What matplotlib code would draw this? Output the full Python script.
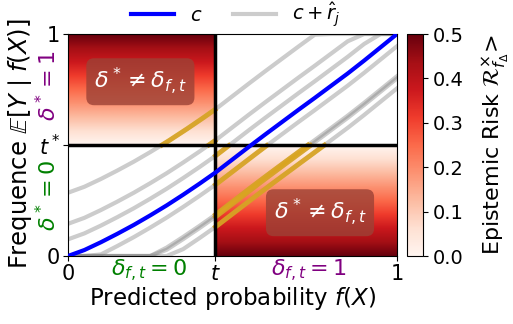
import numpy as np
import matplotlib.pyplot as plt
from matplotlib.colors import Normalize

# calibration curve c(x)
x_pts = [0.0, 0.05, 0.10, 0.15, 0.20, 0.25, 0.30, 0.35, 0.40, 0.45, 0.50,
         0.55, 0.60, 0.65, 0.70, 0.75, 0.80, 0.85, 0.90, 0.95, 1.0]
c_pts = [0.0, 0.027, 0.062, 0.100, 0.140, 0.183, 0.228, 0.276, 0.326, 0.378, 0.435,
         0.492, 0.548, 0.603, 0.658, 0.712, 0.767, 0.822, 0.880, 0.940, 1.0]

# residual offsets r_j for the grey curves
r_hat = [0.285, 0.145, 0.075, -0.055, -0.19, -0.20, -0.245]

t = 0.447       # decision threshold on f(X)
t_star = 0.5    # threshold on the true frequency

x = np.array(x_pts)
c = np.array(c_pts)

fig = plt.figure(figsize=(5.13, 3.24), dpi=100)
ax = fig.add_axes([68/513, 68/324, 329/513, 222/324])
cax = fig.add_axes([407/513, 68/324, 16/513, 222/324])

# epistemic risk regions (gradient = |y - t*|)
norm = Normalize(vmin=0, vmax=0.5)
yy = np.linspace(t_star, 1, 200)
im = ax.imshow(np.abs(yy - t_star)[:, None], extent=[0, t, t_star, 1], origin='lower',
               cmap='Reds', norm=norm, aspect='auto', zorder=0)
yy = np.linspace(0, t_star, 200)
ax.imshow(np.abs(yy - t_star)[:, None], extent=[t, 1, 0, t_star], origin='lower',
          cmap='Reds', norm=norm, aspect='auto', zorder=0)

# grey curves c + r_j, with wrong-decision parts in orange
xs = np.linspace(0, 1, 400)
for i, r in enumerate(r_hat):
    y = np.clip(c + r, 0, 1)
    ax.plot(x, y, color='gray', alpha=0.4, lw=3, zorder=2,
            label=r'$c+\hat{r}_j$' if i == 0 else None)
    ys = np.interp(xs, x, y)
    w = ((xs <= t) & (ys > t_star)) | ((xs >= t) & (ys < t_star))
    ax.plot(xs, np.where(w, ys, np.nan), color='goldenrod', alpha=0.9, lw=3.5, zorder=2.5)

ax.plot(x, c, color='blue', lw=3, zorder=4, label=r'$c$')

ax.axvline(t, color='black', lw=2.5, zorder=3)
ax.axhline(t_star, color='black', lw=2.5, zorder=3)

box = dict(boxstyle='round,pad=0.35', facecolor='#9c4236', alpha=0.8, edgecolor='none')
ax.text(0.22, 0.785, r'$\delta^* \neq \delta_{f,t}$', color='white', fontsize=16,
        ha='center', va='center', bbox=box, zorder=5)
ax.text(0.766, 0.195, r'$\delta^* \neq \delta_{f,t}$', color='white', fontsize=16,
        ha='center', va='center', bbox=box, zorder=5)

ax.set_xlim(0, 1)
ax.set_ylim(0, 1)
ax.set_xticks([0, t, 1])
ax.set_xticklabels(['0', '$t$', '1'], fontsize=15)
ax.set_yticks([0, t_star, 1])
ax.set_yticklabels(['0', '$t^*$', '1'], fontsize=15)
ax.tick_params(pad=2)

ax.set_xlabel(r'Predicted probability $f(X)$', fontsize=16.5)
ax.xaxis.set_label_coords(0.5, -0.13)
ax.set_ylabel(r'Frequence $\mathbb{E}[Y \mid f(X)]$', fontsize=17.5)
ax.yaxis.set_label_coords(-0.104, 0.505)

# region annotations
ax.text(0.245, -0.065, r'$\delta_{f,t} = 0$', color='green', fontsize=16,
        ha='center', va='center', transform=ax.transAxes)
ax.text(0.73, -0.065, r'$\delta_{f,t} = 1$', color='purple', fontsize=16,
        ha='center', va='center', transform=ax.transAxes)
ax.text(-0.062, 0.275, r'$\delta^* = 0$', color='green', fontsize=16, rotation=90,
        ha='center', va='center', transform=ax.transAxes)
ax.text(-0.062, 0.77, r'$\delta^* = 1$', color='purple', fontsize=16, rotation=90,
        ha='center', va='center', transform=ax.transAxes)

handles, labels = ax.get_legend_handles_labels()
ax.legend(handles[::-1], labels[::-1], loc='center', bbox_to_anchor=(0.51, 1.087), ncol=2,
          frameon=False, fontsize=14, handlelength=2.2, columnspacing=1.6, borderaxespad=0)

cb = fig.colorbar(im, cax=cax)
cb.set_ticks([0, 0.1, 0.2, 0.3, 0.4, 0.5])
cb.ax.tick_params(labelsize=14)
cb.set_label(r'Epistemic Risk $\mathcal{R}_{f_\Delta}^{\times}\!>$', fontsize=16, labelpad=12)

fig.savefig('out.png', dpi=100)
